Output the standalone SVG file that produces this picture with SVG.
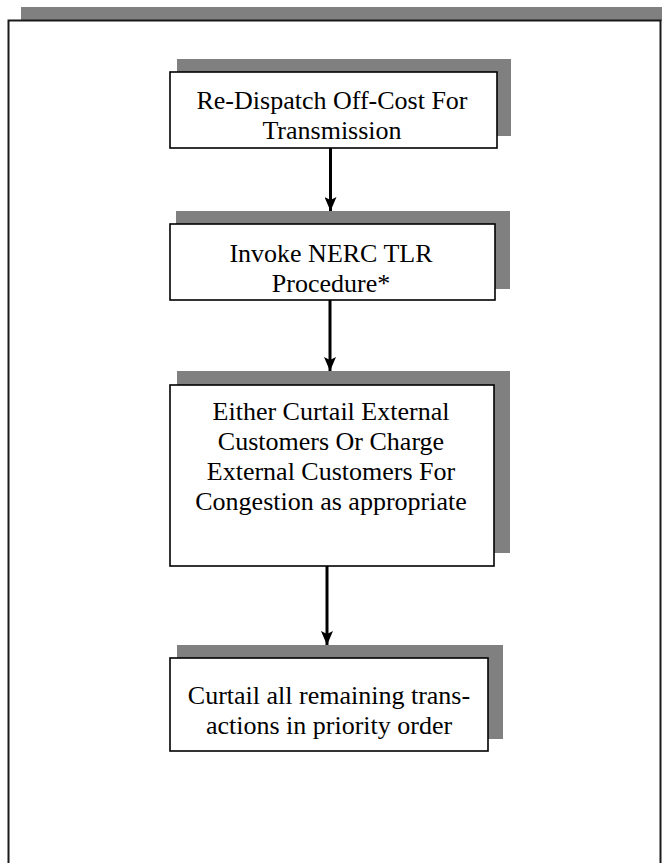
<svg xmlns="http://www.w3.org/2000/svg" width="662" height="863" viewBox="0 0 662 863">
<defs>
<style>
.shadow{fill:#808080;stroke:none}
.box{fill:#ffffff;stroke:#000000;stroke-width:1.6}
.frame{fill:#ffffff;stroke:#1a1a1a;stroke-width:2}
.lbl{font-family:"Liberation Serif","Times New Roman",serif;font-size:26px;fill:#000000;text-anchor:middle}
.conn{stroke:#000000;stroke-width:3;fill:none}
</style>
<marker id="ah" markerWidth="14" markerHeight="12" refX="14" refY="6" orient="auto" markerUnits="userSpaceOnUse" viewBox="0 0 14 12">
<path d="M0,0 L14,6 L0,12 L3,6 Z" fill="#000000"/>
</marker>
</defs>
<rect width="662" height="863" fill="#ffffff"/>
<g id="frame">
<rect class="shadow" x="21" y="7" width="641" height="14"/>
<rect class="frame" x="8.5" y="20.5" width="652" height="860"/>
</g>
<g id="node1">
<rect class="shadow" x="177" y="59" width="334" height="77"/>
<rect class="box" x="170" y="72" width="327" height="76"/>
<text class="lbl" x="332" y="109">Re-Dispatch Off-Cost For</text>
<text class="lbl" x="332" y="139">Transmission</text>
</g>
<g id="node2">
<rect class="shadow" x="176" y="211" width="334" height="78"/>
<rect class="box" x="170" y="224" width="325" height="76"/>
<text class="lbl" x="331" y="262">Invoke NERC TLR</text>
<text class="lbl" x="331" y="292">Procedure*</text>
</g>
<g id="node3">
<rect class="shadow" x="177" y="371" width="333" height="182"/>
<rect class="box" x="170" y="385" width="324" height="181"/>
<text class="lbl" x="331" y="420">Either Curtail External</text>
<text class="lbl" x="331" y="450">Customers Or Charge</text>
<text class="lbl" x="331" y="480">External Customers For</text>
<text class="lbl" x="331" y="510">Congestion as appropriate</text>
</g>
<g id="node4">
<rect class="shadow" x="177" y="645" width="326" height="94"/>
<rect class="box" x="170" y="658" width="318" height="93"/>
<text class="lbl" x="329" y="704">Curtail all remaining trans-</text>
<text class="lbl" x="329" y="734">actions in priority order</text>
</g>
<g id="connectors">
<line class="conn" x1="330.5" y1="148" x2="330.5" y2="211" marker-end="url(#ah)"/>
<line class="conn" x1="330" y1="300" x2="330" y2="371" marker-end="url(#ah)"/>
<line class="conn" x1="327" y1="566" x2="327" y2="645" marker-end="url(#ah)"/>
</g>
</svg>
